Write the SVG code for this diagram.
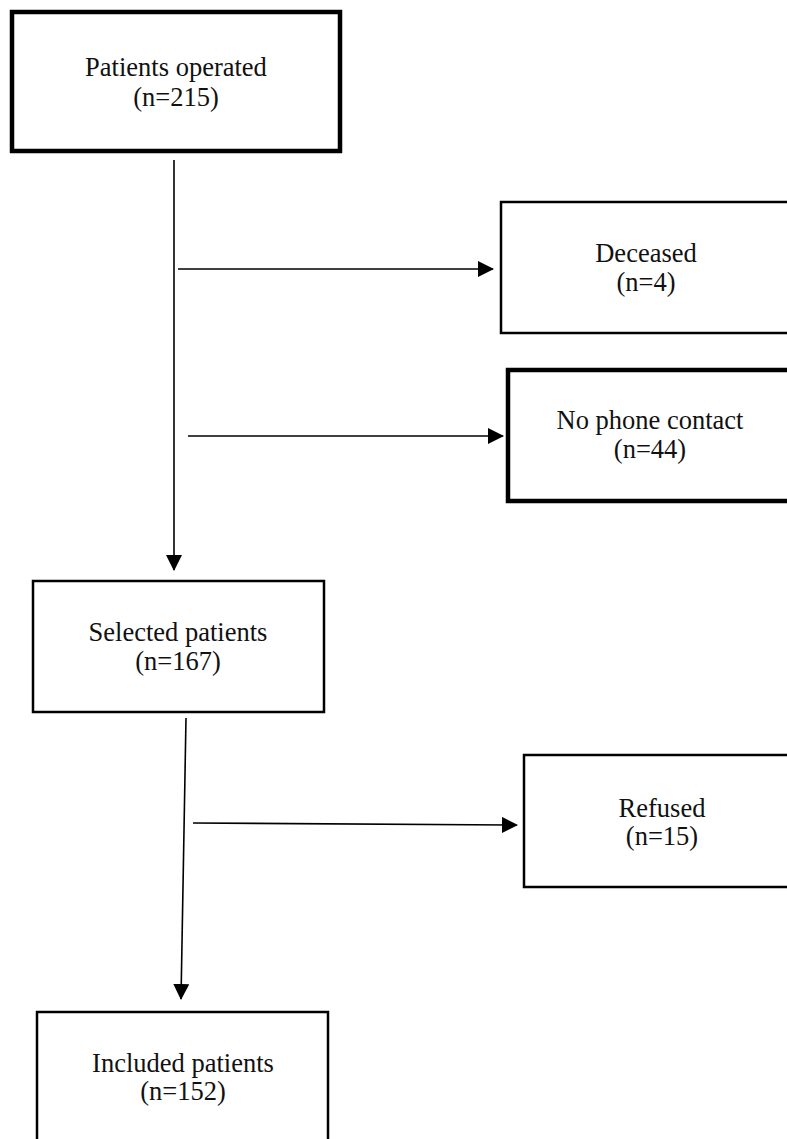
<svg xmlns="http://www.w3.org/2000/svg" width="787" height="1139" viewBox="0 0 787 1139">
<defs>
<marker id="arr" markerUnits="userSpaceOnUse" markerWidth="16" markerHeight="16" viewBox="0 0 16 16" refX="15" refY="8" orient="auto">
<path d="M0,0 L16,8 L0,16 Z" fill="#000"/>
</marker>
</defs>
<style>
.box{fill:#fff;stroke:#000;}
.thin{stroke-width:2.5;}
.thick{stroke-width:4.5;}
.lbl{font-family:"Liberation Serif","Times New Roman",serif;font-size:26.5px;fill:#111;text-anchor:middle;}
.con{stroke:#000;stroke-width:1.6;fill:none;marker-end:url(#arr);}
</style>
<rect width="787" height="1139" fill="#fff"/>
<g id="connectors">
<line class="con" x1="174" y1="160" x2="174" y2="570"/>
<line class="con" x1="178" y1="269" x2="493" y2="269"/>
<line class="con" x1="188" y1="436" x2="503" y2="436"/>
<line class="con" x1="186" y1="718" x2="181" y2="999"/>
<line class="con" x1="193" y1="823" x2="517" y2="825"/>
</g>
<g id="patients-operated">
<rect class="box thick" x="12" y="12" width="328" height="139"/>
<text class="lbl" x="176" y="76">Patients operated</text>
<text class="lbl" x="176" y="106">(n=215)</text>
</g>
<g id="deceased">
<rect class="box thin" x="501" y="202" width="300" height="131"/>
<text class="lbl" x="646" y="262">Deceased</text>
<text class="lbl" x="646" y="291">(n=4)</text>
</g>
<g id="no-phone-contact">
<rect class="box thick" x="508" y="370" width="300" height="131"/>
<text class="lbl" x="650" y="429">No phone contact</text>
<text class="lbl" x="650" y="458">(n=44)</text>
</g>
<g id="selected-patients">
<rect class="box thin" x="33" y="581" width="291" height="131"/>
<text class="lbl" x="178" y="641">Selected patients</text>
<text class="lbl" x="178" y="670">(n=167)</text>
</g>
<g id="refused">
<rect class="box thin" x="524" y="755" width="300" height="132"/>
<text class="lbl" x="662" y="817">Refused</text>
<text class="lbl" x="662" y="845">(n=15)</text>
</g>
<g id="included-patients">
<rect class="box thin" x="37" y="1012" width="291" height="160"/>
<text class="lbl" x="183" y="1072">Included patients</text>
<text class="lbl" x="183" y="1100">(n=152)</text>
</g>
</svg>
